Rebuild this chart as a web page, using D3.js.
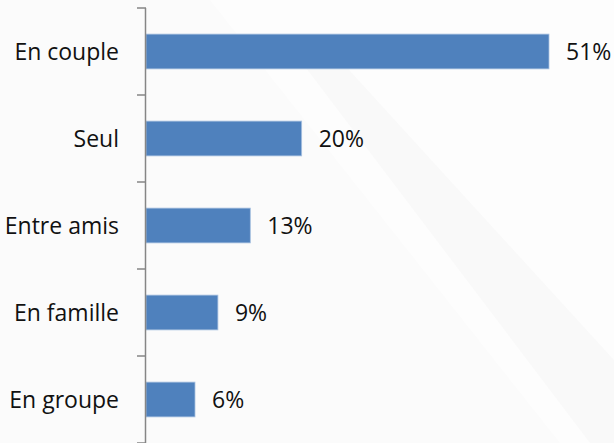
<!DOCTYPE html>
<html>
  <head>
    <meta charset="utf-8">
    <script src="https://d3js.org/d3.v7.min.js"></script>
    <style>
      body { margin: 0; background: #fdfdfd; }
      text { font-family: "Open Sans", sans-serif; fill: #111; }
    </style>
  </head>
  <body>
    <div id="chart"></div>
    <script>
      // data
      var categories = ["En couple", "Seul", "Entre amis", "En famille", "En groupe"];
      var values = [51.0, 19.7, 13.2, 9.1, 6.2];
      var labels = ["51%", "20%", "13%", "9%", "6%"];

      var width = 614;
      var height = 443;
      var left = 146;

      var svg = d3.select("#chart")
        .append("svg")
        .attr("width", width)
        .attr("height", height);

      // very faint background watermark
      svg.append("path")
        .attr("d", "M0,0 L210,0 L560,443 L0,443 Z")
        .style("fill", "#fbfbfb");
      svg.append("path")
        .attr("d", "M300,60 L340,60 L614,360 L614,443 L590,443 Z")
        .style("fill", "#f9f9f9");

      var x = d3.scaleLinear()
        .domain([0, 51])
        .range([left, 549]);

      var y = d3.scaleBand()
        .domain(categories)
        .range([8, 443])
        .paddingInner(0.6)
        .paddingOuter(0.3);

      // bars
      svg.selectAll("rect.bar")
        .data(values)
        .enter()
        .append("rect")
        .attr("class", "bar")
        .attr("x", x(0))
        .attr("y", function(d, i) { return y(categories[i]); })
        .attr("width", function(d) { return x(d) - x(0); })
        .attr("height", y.bandwidth())
        .style("fill", "#4f81bd")
        .style("stroke", "#a8c1e0")
        .style("stroke-width", 0.8);

      // value labels
      svg.selectAll("text.val")
        .data(values)
        .enter()
        .append("text")
        .attr("class", "val")
        .attr("x", function(d) { return x(d) + 17; })
        .attr("y", function(d, i) { return y(categories[i]) + y.bandwidth() / 2; })
        .attr("dy", "0.35em")
        .style("font-size", "23px")
        .text(function(d, i) { return labels[i]; });

      // category axis
      var axis = d3.axisLeft(y)
        .tickSize(0)
        .tickPadding(27);

      var g = svg.append("g")
        .attr("transform", "translate(" + left + ",0)")
        .call(axis);
      g.select(".domain").remove();
      g.selectAll("text")
        .attr("dy", "0.35em")
        .style("font-size", "23px")
        .style("font-family", "Open Sans, sans-serif")
        .style("fill", "#111");

      // axis line and tick marks between categories
      svg.append("line")
        .attr("x1", left - 0.5).attr("x2", left - 0.5)
        .attr("y1", 8).attr("y2", height)
        .style("stroke", "#868686")
        .style("stroke-width", 1.5);

      var step = y.step();
      var bounds = d3.range(categories.length + 1).map(function(i) { return 8 + i * step; });
      svg.selectAll("line.tick")
        .data(bounds)
        .enter()
        .append("line")
        .attr("class", "tick")
        .attr("x1", left - 9).attr("x2", left)
        .attr("y1", function(d) { return d; })
        .attr("y2", function(d) { return d; })
        .style("stroke", "#868686")
        .style("stroke-width", 1.5);
    </script>
  </body>
</html>
